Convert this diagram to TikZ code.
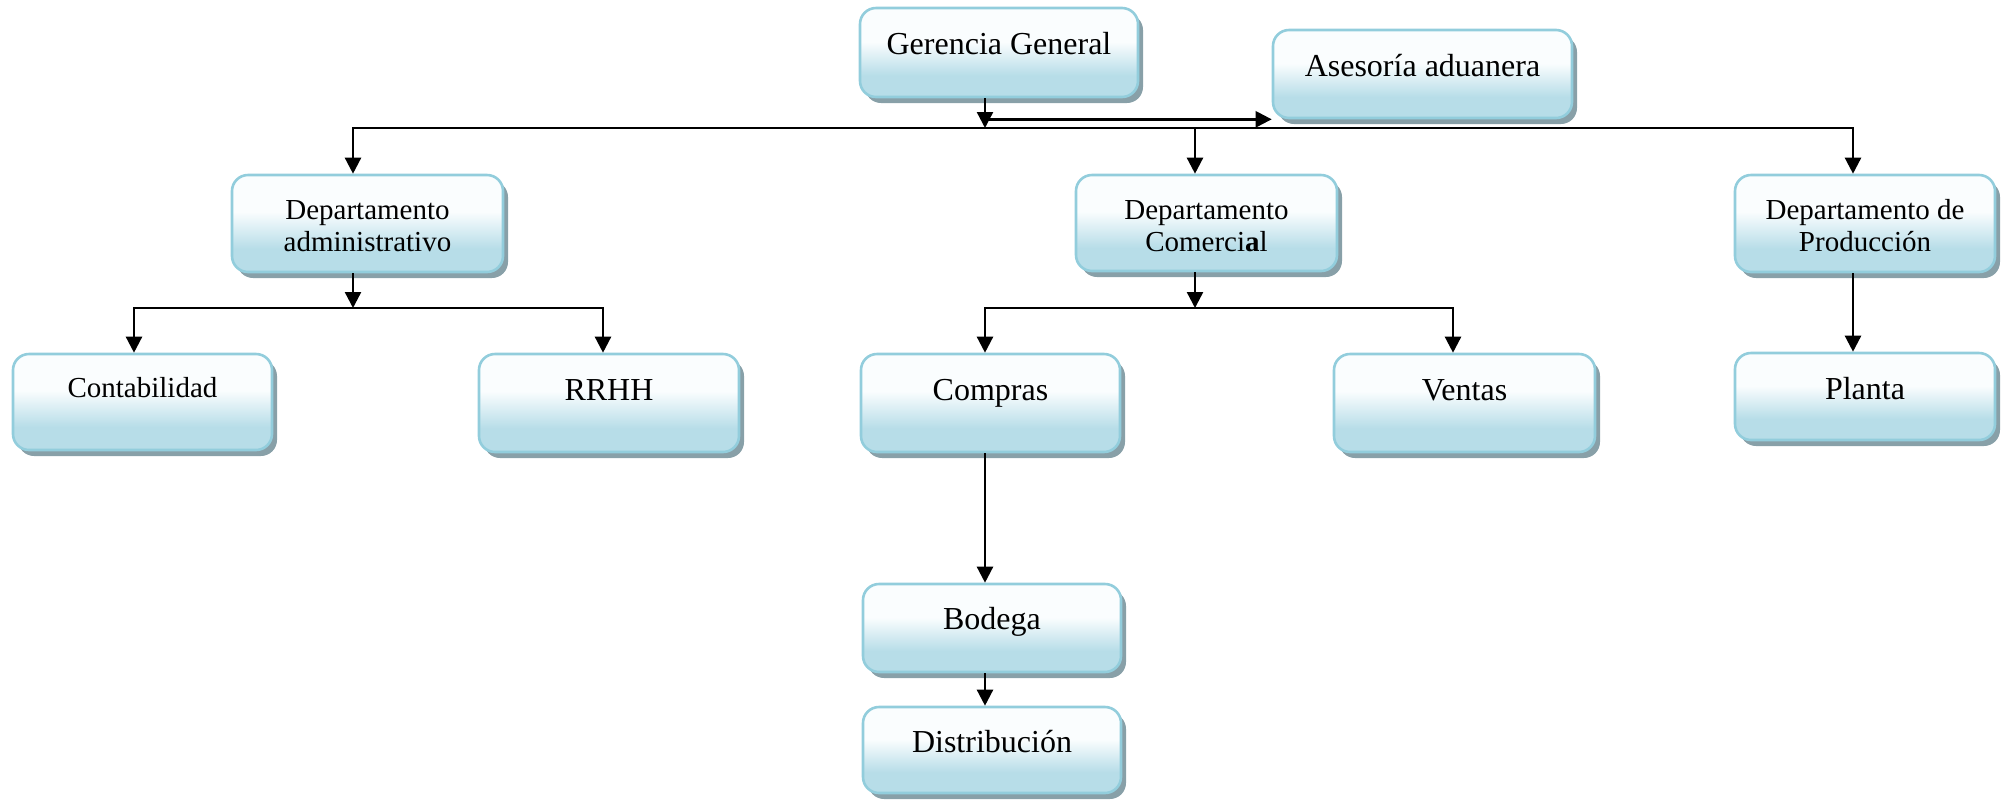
\documentclass[tikz,border=0pt]{standalone}
\usepackage{fontspec}
\setmainfont{Liberation Serif}
\usetikzlibrary{arrows.meta,shadows}

\definecolor{boxedge}{RGB}{146,205,220}
\definecolor{boxfill}{RGB}{183,221,232}
\definecolor{boxtop}{RGB}{250,253,254}
\definecolor{boxshadow}{RGB}{136,160,168}

% light top fading into aqua towards the bottom of each box
\pgfdeclareverticalshading{orgshade}{100bp}{color(0bp)=(boxfill); color(25bp)=(boxfill); color(37bp)=(boxfill); color(56bp)=(boxtop); color(75bp)=(boxtop); color(100bp)=(boxtop)}

% box content: width, height, first baseline below the top, text
\newcommand\orgtext[4]{\parbox[c][#2][t]{#1}{\centering\rule{0pt}{#3}#4}}

\tikzset{
  orgbox/.style={draw=boxedge, line width=1.3pt, rounded corners=8pt, inner sep=0pt,
    shade, shading=orgshade,
    drop shadow={shadow xshift=2.5pt, shadow yshift=-3pt, fill=boxshadow, opacity=1}},
  big/.style={font=\fontsize{16}{18}\selectfont},
  small/.style={font=\fontsize{14.5}{16}\selectfont},
  arr/.style={line width=1.2pt, -{Triangle[width=8pt,length=8pt]}},
  bus/.style={line width=1.2pt, line cap=rect},
}

\begin{document}
\begin{tikzpicture}[x=0.5pt, y=-0.5pt]
\useasboundingbox (0,0) rectangle (2004,799);

% boxes
\node[orgbox,big]   (ger)  at (999,52.5)   {\orgtext{139pt}{44.5pt}{23pt}{Gerencia General}};
\node[orgbox,big]   (ase)  at (1422.5,74)  {\orgtext{149.5pt}{44pt}{23pt}{Asesoría aduanera}};
\node[orgbox,small] (adm)  at (367.5,223.5){\orgtext{135.5pt}{48.5pt}{22pt}{Departamento\\administrativo}};
\node[orgbox,small] (com)  at (1206.5,223) {\orgtext{130.5pt}{48pt}{22pt}{Departamento\\Comerci\textbf{a}l}};
\node[orgbox,small] (pro)  at (1865,223.5) {\orgtext{130pt}{48.5pt}{22pt}{Departamento de\\Producción}};
\node[orgbox,small] (cont) at (142.5,402)  {\orgtext{129.5pt}{48pt}{21.5pt}{Contabilidad}};
\node[orgbox,big]   (rrhh) at (609,403)    {\orgtext{130pt}{49pt}{23pt}{RRHH}};
\node[orgbox,big]   (comp) at (990.5,403)  {\orgtext{129.5pt}{49pt}{23pt}{Compras}};
\node[orgbox,big]   (ven)  at (1464.5,403) {\orgtext{130.5pt}{49pt}{23pt}{Ventas}};
\node[orgbox,big]   (pla)  at (1865,396.5) {\orgtext{130pt}{43.5pt}{23pt}{Planta}};
\node[orgbox,big]   (bod)  at (992,628)    {\orgtext{129pt}{44pt}{22.5pt}{Bodega}};
\node[orgbox,big]   (dis)  at (992,750)    {\orgtext{129pt}{43pt}{22.5pt}{Distribución}};

% connector columns and bus rows
\coordinate (xg) at (985,0);
\coordinate (xa) at (353,0);
\coordinate (xc) at (1195,0);
\coordinate (xp) at (1853,0);
\coordinate (xk) at (134,0);
\coordinate (xr) at (603,0);
\coordinate (xv) at (1453,0);
\coordinate (b1) at (0,128);
\coordinate (b2) at (0,308);

% top level
\draw[bus] (xa |- b1) -- (xp |- b1);
\draw[arr] (ger.south -| xg) -- (xg |- b1);
\draw[arr] (xg |- ase.south) -- (ase.south west);
\draw[arr] (xa |- b1) -- (adm.north -| xa);
\draw[arr] (xc |- b1) -- (com.north -| xc);
\draw[arr] (xp |- b1) -- (pro.north -| xp);

% administrative branch
\draw[arr] (adm.south -| xa) -- (xa |- b2);
\draw[bus] (xk |- b2) -- (xr |- b2);
\draw[arr] (xk |- b2) -- (cont.north -| xk);
\draw[arr] (xr |- b2) -- (rrhh.north -| xr);

% commercial branch
\draw[arr] (com.south -| xc) -- (xc |- b2);
\draw[bus] (xg |- b2) -- (xv |- b2);
\draw[arr] (xg |- b2) -- (comp.north -| xg);
\draw[arr] (xv |- b2) -- (ven.north -| xv);
\draw[arr] (comp.south -| xg) -- (bod.north -| xg);
\draw[arr] (bod.south -| xg) -- (dis.north -| xg);

% production branch
\draw[arr] (pro.south -| xp) -- (pla.north -| xp);
\end{tikzpicture}
\end{document}
